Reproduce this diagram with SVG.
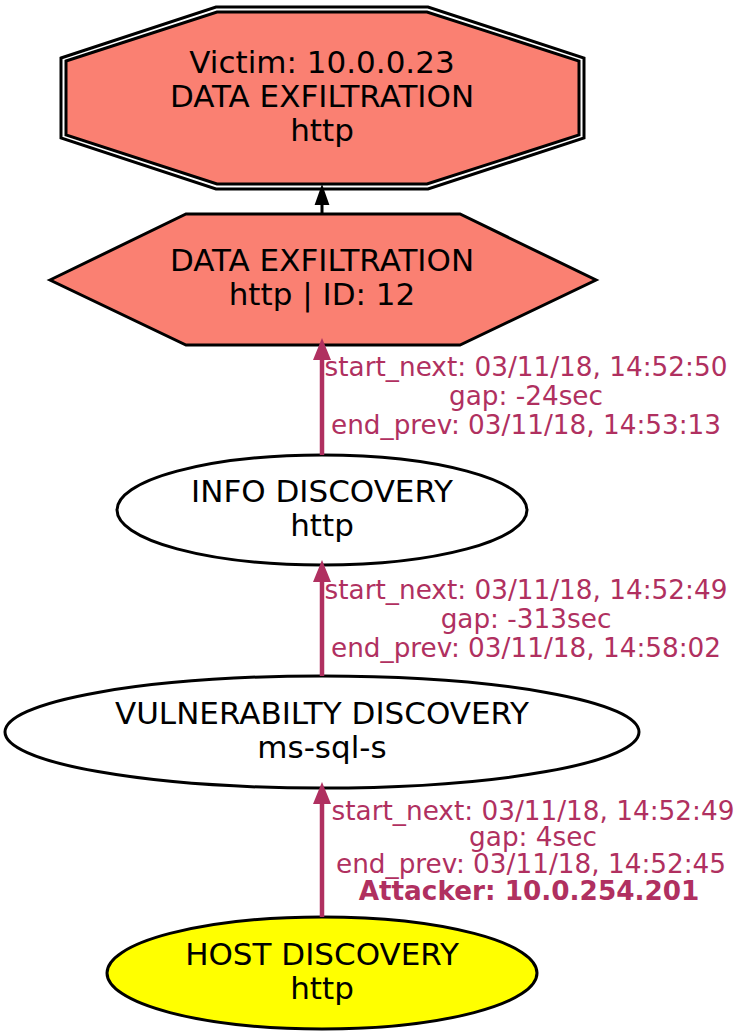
<svg xmlns="http://www.w3.org/2000/svg" width="743" height="1036" viewBox="0 0 743 1036">
<style>
text{font-family:"DejaVu Sans",sans-serif;text-anchor:middle}
.n{font-size:31px;fill:#000}
.e{font-size:26.3px;fill:#b03060}
.b{font-weight:bold}
.shape{stroke:#000;stroke-width:3}
.edge{stroke:#b03060;stroke-width:4.5;fill:none}
</style>
<rect width="743" height="1036" fill="#fff"/>
<g id="victim">
<polygon fill="none" stroke="#000" stroke-width="3" points="61,58 216,7 428,7 584,58 584,138 428,189 216,189 61,138"/>
<polygon class="shape" fill="#fa8072" stroke-width="2.5" points="66,61 217,12 427,12 579,61 579,135 427,184 217,184 66,135"/>
<text class="n" x="322" y="73">Victim: 10.0.0.23</text>
<text class="n" x="322" y="107">DATA EXFILTRATION</text>
<text class="n" x="322" y="141">http</text>
</g>
<g id="exfil">
<polygon class="shape" fill="#fa8072" points="50,280 186,214 460,214 596,280 460,345 186,345"/>
<text class="n" x="322" y="271">DATA EXFILTRATION</text>
<text class="n" x="322" y="305">http | ID: 12</text>
</g>
<g id="info">
<ellipse class="shape" fill="#fff" cx="322" cy="510" rx="205" ry="55"/>
<text class="n" x="322" y="502">INFO DISCOVERY</text>
<text class="n" x="322" y="536">http</text>
</g>
<g id="vuln">
<ellipse class="shape" fill="#fff" cx="322" cy="732" rx="317" ry="56"/>
<text class="n" x="322" y="724">VULNERABILTY DISCOVERY</text>
<text class="n" x="322" y="758">ms-sql-s</text>
</g>
<g id="host">
<ellipse class="shape" fill="#ffff00" cx="322" cy="973" rx="215" ry="56"/>
<text class="n" x="322" y="965">HOST DISCOVERY</text>
<text class="n" x="322" y="999">http</text>
</g>
<g id="edges">
<line x1="322" y1="214" x2="322" y2="203" stroke="#000" stroke-width="3"/>
<polygon points="322,187 316,204 328,204" fill="#000" stroke="#000" stroke-width="2"/>
<line class="edge" x1="322" y1="455" x2="322" y2="356"/>
<polygon points="322,338 313,360 331,360" fill="#b03060"/>
<line class="edge" x1="322" y1="676" x2="322" y2="578"/>
<polygon points="322,560 313,582 331,582" fill="#b03060"/>
<line class="edge" x1="322" y1="917" x2="322" y2="800"/>
<polygon points="322,782 313,804 331,804" fill="#b03060"/>
<text class="e" x="526" y="376">start_next: 03/11/18, 14:52:50</text>
<text class="e" x="526" y="405">gap: -24sec</text>
<text class="e" x="526" y="434">end_prev: 03/11/18, 14:53:13</text>
<text class="e" x="526" y="599">start_next: 03/11/18, 14:52:49</text>
<text class="e" x="526" y="628">gap: -313sec</text>
<text class="e" x="526" y="657">end_prev: 03/11/18, 14:58:02</text>
<text class="e" x="533" y="820">start_next: 03/11/18, 14:52:49</text>
<text class="e" x="533" y="846">gap: 4sec</text>
<text class="e" x="531" y="873">end_prev: 03/11/18, 14:52:45</text>
<text class="e b" x="529" y="900">Attacker: 10.0.254.201</text>
</g>
</svg>
